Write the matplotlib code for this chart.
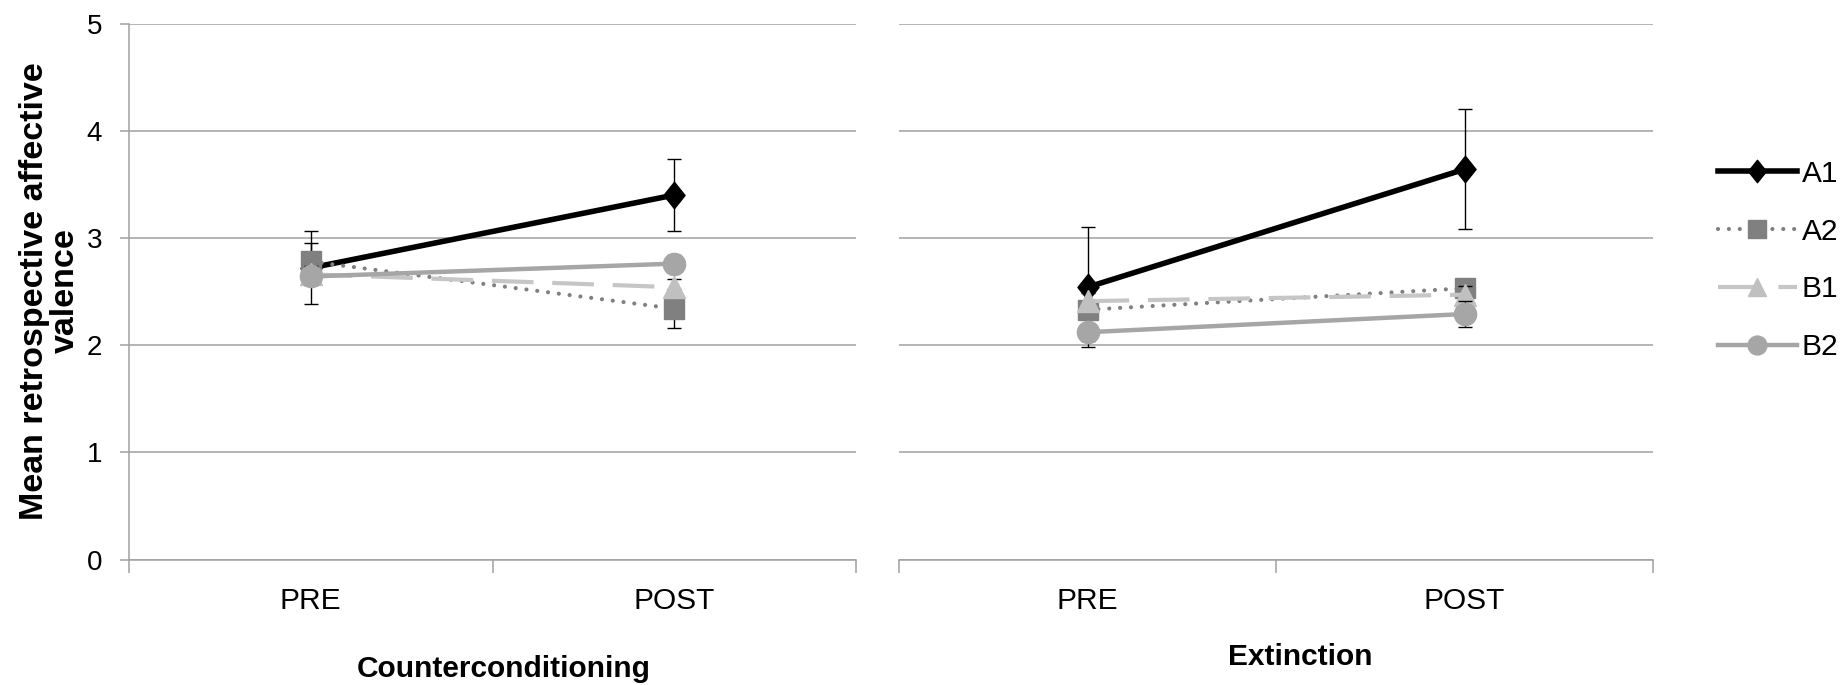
import numpy as np
import matplotlib
matplotlib.use("Agg")
import matplotlib.pyplot as plt
from matplotlib.path import Path

plt.rcParams['font.family'] = ['Liberation Sans', 'DejaVu Sans']

# ---------------- data ----------------
categories = ['PRE', 'POST']
series_names = ['A1', 'A2', 'B1', 'B2']

# Counterconditioning panel
cc_A1 = [2.72, 3.40]
cc_A2 = [2.78, 2.34]
cc_B1 = [2.66, 2.54]
cc_B2 = [2.64, 2.76]
cc_A1_se = [0.34, 0.335]
cc_A2_se = [0.17, 0.18]
cc_B1_se = [0.08, 0.08]
cc_B2_se = [0.08, 0.08]

# Extinction panel
ex_A1 = [2.54, 3.64]
ex_A2 = [2.33, 2.53]
ex_B1 = [2.41, 2.47]
ex_B2 = [2.12, 2.29]
ex_A1_se = [0.56, 0.56]
ex_A2_se = [0.08, 0.08]
ex_B1_se = [0.08, 0.08]
ex_B2_se = [0.08, 0.12]

panel_titles = ['Counterconditioning', 'Extinction']
y_ticks = [0, 1, 2, 3, 4, 5]
y_label = 'Mean retrospective affective\nvalence'

# ---------------- styles ----------------
diamond = Path([(0, 1), (0.8, 0), (0, -1), (-0.8, 0), (0, 1)],
               [Path.MOVETO, Path.LINETO, Path.LINETO, Path.LINETO, Path.CLOSEPOLY])
styles = {
    'A1': dict(color='black', ls='-', lw=4.0, marker=diamond, ms=19, mfc='black', mec='black'),
    'A2': dict(color='#808080', ls=(0, (0.01, 2.6)), lw=3.0, marker='s', ms=15,
               mfc='#808080', mec='#808080', dash_capstyle='round'),
    'B1': dict(color='#c6c6c6', ls=(0, (10, 4.5)), lw=3.0, marker='^', ms=16,
               mfc='#c0c0c0', mec='#c0c0c0'),
    'B2': dict(color='#a6a6a6', ls='-', lw=3.2, marker='o', ms=16, mfc='#a6a6a6', mec='#a6a6a6'),
}
grid_col = '#a0a0a0'

W, H = 1843, 685
fig = plt.figure(figsize=(W / 100, H / 100), dpi=100)
y0px, y5px = 559.5, 23.5
ax1 = fig.add_axes([129 / W, (H - y0px) / H, (856 - 129) / W, (y0px - y5px) / H])
ax2 = fig.add_axes([899 / W, (H - y0px) / H, (1653 - 899) / W, (y0px - y5px) / H])

panels = [
    (ax1, [cc_A1, cc_A2, cc_B1, cc_B2], [cc_A1_se, cc_A2_se, cc_B1_se, cc_B2_se]),
    (ax2, [ex_A1, ex_A2, ex_B1, ex_B2], [ex_A1_se, ex_A2_se, ex_B1_se, ex_B2_se]),
]

x = np.arange(len(categories))
handles = []
for ax, vals, ses in panels:
    ax.set_xlim(-0.5, len(categories) - 0.5)
    ax.set_ylim(0, 5)
    ax.set_axisbelow(True)
    for i, name in enumerate(series_names):
        ax.errorbar(x, vals[i], yerr=ses[i], fmt='none', ecolor='black', elinewidth=1.0,
                    capsize=4.8, capthick=1.0, zorder=2 + i - 0.5)
        ln, = ax.plot(x, vals[i], label=name, zorder=2 + i, **styles[name])
        if ax is ax1:
            handles.append(ln)
    ax.set_yticks(y_ticks)
    ax.yaxis.grid(True, color=grid_col, lw=1.1)
    ax.set_xticks(x)
    ax.set_xticklabels(categories, fontsize=21.5)
    ax.set_xticks([-0.5, 0.5, 1.5], minor=True)
    ax.tick_params(axis='x', which='major', length=0, pad=20)
    ax.tick_params(axis='x', which='minor', length=9.5, width=1.1, color=grid_col, direction='out')
    for s in ['top', 'right']:
        ax.spines[s].set_visible(False)
    ax.spines['bottom'].set_color(grid_col)
    ax.spines['bottom'].set_linewidth(1.1)

ax1.spines['left'].set_color(grid_col)
ax1.spines['left'].set_linewidth(1.1)
ax1.tick_params(axis='y', length=6.5, width=1.1, color=grid_col, pad=13, labelsize=20)
ax2.spines['left'].set_visible(False)
ax2.tick_params(axis='y', left=False, labelleft=False)

fig.text(503.6 / W, (H - 677) / H, panel_titles[0], ha='center', va='baseline',
         fontsize=21.5, fontweight='bold')
fig.text(1300 / W, (H - 665.3) / H, panel_titles[1], ha='center', va='baseline',
         fontsize=21.5, fontweight='bold')
fig.text(50 / W, (H - 291) / H, y_label, rotation=90, ha='center', va='center',
         multialignment='center', fontsize=24.5, fontweight='bold', linespacing=0.98)

fig.legend(handles=handles, labels=series_names, loc='center left',
           bbox_to_anchor=(1718 / W, (H - 260.5) / H), frameon=False, fontsize=21.5,
           handlelength=2.64, handletextpad=0.17, labelspacing=1.0,
           borderpad=0, borderaxespad=0, markerscale=0.85)

fig.savefig('out.png', dpi=100)
